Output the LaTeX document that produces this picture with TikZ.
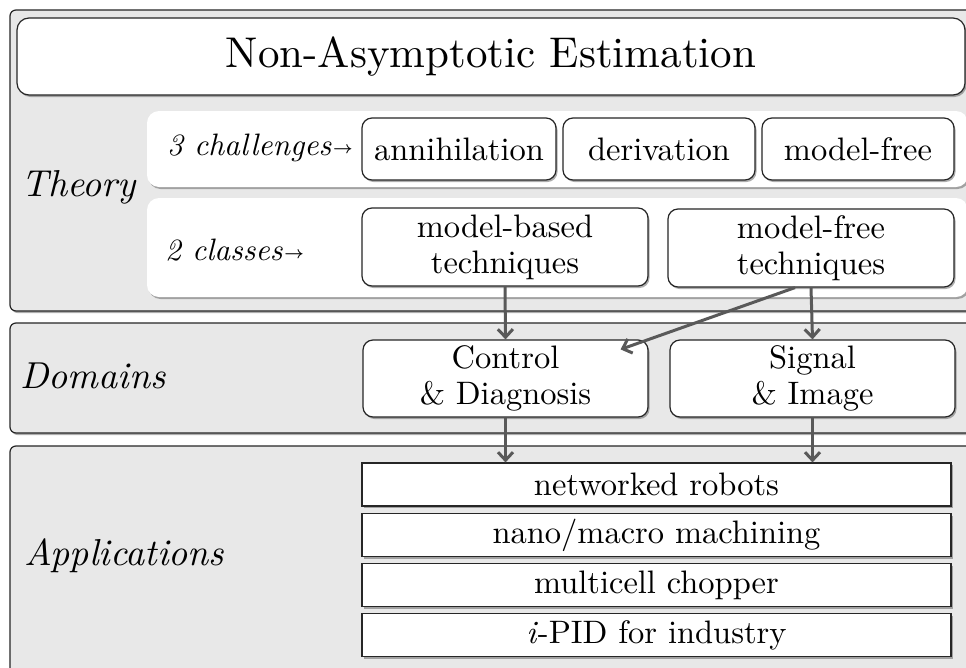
\RequirePackage{fix-cm}
\documentclass[tikz,border=0pt]{standalone}
\usepackage{amsmath}
\usepackage{fontspec}
\setmainfont{lmroman10-regular.otf}[ItalicFont=lmroman10-italic.otf, BoldFont=lmroman10-bold.otf]
\usetikzlibrary{shadows,arrows.meta,calc}
\definecolor{panelgray}{HTML}{E8E8E8}
\definecolor{arrgray}{HTML}{595959}
\tikzset{
 shad/.style={drop shadow={shadow xshift=1.5pt,shadow yshift=-2pt,opacity=0.45,fill=black!70}},
 panel/.style={draw=black!85,line width=1.2pt,fill=panelgray,rounded corners=6pt,shad,inner sep=0pt},
 band/.style={fill=white,rounded corners=12pt,shad,inner sep=0pt},
 rbox/.style={draw=black!85,line width=1.2pt,fill=white,rounded corners=10pt,shad,inner sep=0pt,align=center,font=\fontsize{32.5}{36}\selectfont},
 appbox/.style={draw=black!85,line width=1.2pt,fill=white,shad,inner sep=0pt,minimum width=589pt,minimum height=43pt,font=\fontsize{32.5}{36}\selectfont},
 seclabel/.style={inner sep=0pt,anchor=west,font=\fontsize{37.5}{40}\selectfont\itshape},
 rowlabel/.style={inner sep=0pt,anchor=west,font=\fontsize{31}{36}\selectfont\itshape},
 arr/.style={draw=arrgray,line width=3pt,-{Straight Barb[length=8pt,width=15pt]}},
}
\newcommand{\smallarr}{\hspace{2pt}{\fontsize{17}{17}\selectfont\raisebox{2.2pt}{$\boldsymbol{\rightarrow}$}}}
\begin{document}
\begin{tikzpicture}[x=1pt,y=-1pt]
\useasboundingbox (0,0) rectangle (966,667);
\fill[white] (0,0) rectangle (966,667);
\clip (0,0) rectangle (966,667);
% panels
\node[panel,minimum width=970pt,minimum height=301pt] (theory) at (495,160.5) {};
\node[panel,minimum width=970pt,minimum height=110pt] (domains) at (495,378) {};
\node[panel,minimum width=970pt,minimum height=254pt] (apps) at (495,573) {};
% title
\node[rbox,rounded corners=12pt,minimum width=948pt,minimum height=77pt,font=\fontsize{43}{48}\selectfont] (title) at (491,56.5) {Non-Asymptotic Estimation};
% bands
\node[band,minimum width=821pt,minimum height=76pt] (band1) at (557.5,149) {};
\node[band,minimum width=821pt,minimum height=99pt] (band2) at (557.5,247.5) {};
% labels
\node[seclabel] (lth) at (21,187) {Theory};
\node[seclabel] (ldom) at (20,376) {Domains};
\node[seclabel] (lapp) at (24,556) {Applications};
\node[rowlabel] (lch) at (167,148) {3 challenges\smallarr};
\node[rowlabel] (lcl) at (165,250) {2 classes\smallarr};
% challenges
\node[rbox,minimum width=194pt,minimum height=62pt] (ann) at (459,149) {annihilation};
\node[rbox,minimum width=192pt,minimum height=62pt] (der) at (659,149) {derivation};
\node[rbox,minimum width=192pt,minimum height=62pt] (mfr) at (858,149) {model-free};
% classes
\node[rbox,minimum width=286pt,minimum height=78pt] (mb) at (505,247) {model-based\\techniques};
\node[rbox,minimum width=286pt,minimum height=78pt] (mf) at (811,248) {model-free\\techniques};
% domains
\node[rbox,minimum width=285pt,minimum height=77pt] (ctrl) at (505.5,378.5) {Control\\\& Diagnosis};
\node[rbox,minimum width=285pt,minimum height=77pt] (sig) at (812.5,378.5) {Signal\\\& Image};
% applications
\node[appbox] (rob) at (656.5,484.5) {networked robots};
\node[appbox] (nano) at (656.5,535) {nano/macro machining};
\node[appbox] (chop) at (656.5,585) {multicell chopper};
\node[appbox] (pid) at (656.5,635) {\textit{i}-PID for industry};
% arrows
\coordinate (dg) at ([xshift=-28pt,yshift=-10pt]ctrl.north east);
\draw[arr] (mb.south) -- (ctrl.north);
\draw[arr] (mf.south) -- (sig.north);
\draw[arr] ([xshift=-16pt]mf.south) -- (dg);
\draw[arr] (ctrl.south) -- (ctrl.south |- rob.north);
\draw[arr] (sig.south) -- (sig.south |- rob.north);
\end{tikzpicture}
\end{document}
